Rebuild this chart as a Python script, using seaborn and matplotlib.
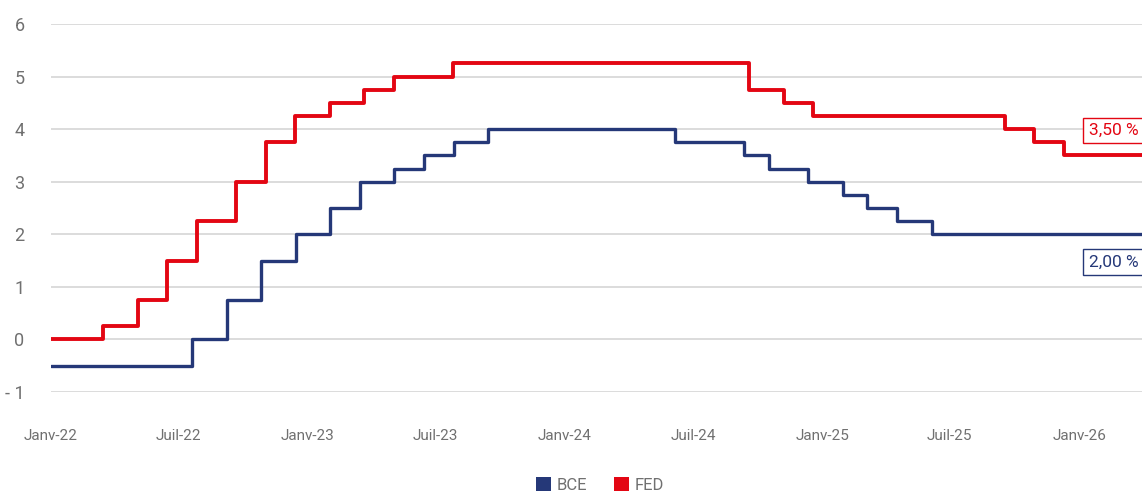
import numpy as np
import pandas as pd
import matplotlib
matplotlib.use("Agg")
import matplotlib.pyplot as plt
from matplotlib.patches import Patch
import seaborn as sns

# taux directeurs (borne basse Fed, taux de depot BCE), dates d'annonce
fed_dates = ['2022-01-01', '2022-03-16', '2022-05-04', '2022-06-15', '2022-07-27',
             '2022-09-21', '2022-11-02', '2022-12-14', '2023-02-01', '2023-03-22',
             '2023-05-03', '2023-07-26', '2024-09-18', '2024-11-07', '2024-12-18',
             '2025-09-17', '2025-10-29', '2025-12-10', '2026-03-31']
fed_rates = [0.00, 0.25, 0.75, 1.50, 2.25, 3.00, 3.75, 4.25, 4.50, 4.75,
             5.00, 5.25, 4.75, 4.50, 4.25, 4.00, 3.75, 3.50, 3.50]

bce_dates = ['2022-01-01', '2022-07-21', '2022-09-08', '2022-10-27', '2022-12-15',
             '2023-02-02', '2023-03-16', '2023-05-04', '2023-06-15', '2023-07-27',
             '2023-09-14', '2024-06-06', '2024-09-12', '2024-10-17', '2024-12-12',
             '2025-01-30', '2025-03-06', '2025-04-17', '2025-06-05', '2026-03-31']
bce_rates = [-0.50, 0.00, 0.75, 1.50, 2.00, 2.50, 3.00, 3.25, 3.50, 3.75,
             4.00, 3.75, 3.50, 3.25, 3.00, 2.75, 2.50, 2.25, 2.00, 2.00]

tick_dates = ['2022-01-01', '2022-07-01', '2023-01-01', '2023-07-01', '2024-01-01',
              '2024-07-01', '2025-01-01', '2025-07-01', '2026-01-01']
tick_labels = ['Janv-22', 'Juil-22', 'Janv-23', 'Juil-23', 'Janv-24',
               'Juil-24', 'Janv-25', 'Juil-25', 'Janv-26']
y_ticks = [-1, 0, 1, 2, 3, 4, 5, 6]
y_labels = ['- 1', '0', '1', '2', '3', '4', '5', '6']

end_labels = {'BCE': '2,00 %', 'FED': '3,50 %'}

colors = {'BCE': '#253878', 'FED': '#e30613'}
widths = {'BCE': 2.4, 'FED': 2.8}
grey = '#707070'

df = pd.concat([
    pd.DataFrame({'date': pd.to_datetime(bce_dates), 'taux': bce_rates, 'banque': 'BCE'}),
    pd.DataFrame({'date': pd.to_datetime(fed_dates), 'taux': fed_rates, 'banque': 'FED'}),
], ignore_index=True)

sns.set_style("white")
plt.rcParams['font.family'] = ['Roboto', 'DejaVu Sans']

fig = plt.figure(figsize=(11.42, 4.91), dpi=100)
ax = fig.add_axes([51 / 1142, 99 / 491, 1 - 51 / 1142, 368 / 491])

ax.set_yticks(y_ticks)
ax.yaxis.grid(True, color='#d9d9d9', linewidth=1.3)
ax.set_axisbelow(True)

sns.lineplot(data=df, x='date', y='taux', hue='banque', palette=colors,
             drawstyle='steps-post', linewidth=2.6, legend=False, ax=ax,
             estimator=None, sort=True)
# epaisseur differente par serie
for line, name in zip(ax.lines, ['BCE', 'FED']):
    line.set_linewidth(widths[name])

ax.set_ylim(-1, 6)
ax.set_xlim(pd.Timestamp('2022-01-01'), pd.Timestamp('2026-03-31'))
ax.set_xticks(pd.to_datetime(tick_dates))
ax.set_xticklabels(tick_labels)
ax.set_yticklabels(y_labels)
ax.tick_params(axis='x', length=0, pad=27, labelsize=11, labelcolor=grey)
ax.tick_params(axis='y', length=0, pad=19, labelsize=13, labelcolor=grey)
ax.set_xlabel('')
ax.set_ylabel('')
sns.despine(ax=ax, left=True, bottom=True, top=True, right=True)

# etiquettes de fin de serie
last_bce = bce_rates[-1]
last_fed = fed_rates[-1]
ax.text(0.951, last_fed + 0.47, end_labels['FED'], transform=ax.get_yaxis_transform(),
        color=colors['FED'], fontsize=12.5, va='center', ha='left', clip_on=False,
        bbox=dict(boxstyle='square,pad=0.3', fc='white', ec=colors['FED'], lw=1))
ax.text(0.951, last_bce - 0.53, end_labels['BCE'], transform=ax.get_yaxis_transform(),
        color=colors['BCE'], fontsize=12.5, va='center', ha='left', clip_on=False,
        bbox=dict(boxstyle='square,pad=0.3', fc='white', ec=colors['BCE'], lw=1))

handles = [Patch(facecolor=colors[k], edgecolor='none', label=k) for k in ['BCE', 'FED']]
fig.legend(handles=handles, loc='center', bbox_to_anchor=(600 / 1142, 1 - 485 / 491),
           ncol=2, frameon=False, fontsize=12, labelcolor=grey,
           handlelength=0.9, handleheight=0.9, handletextpad=0.35, columnspacing=1.6)

plt.savefig("out.png", dpi=100)
